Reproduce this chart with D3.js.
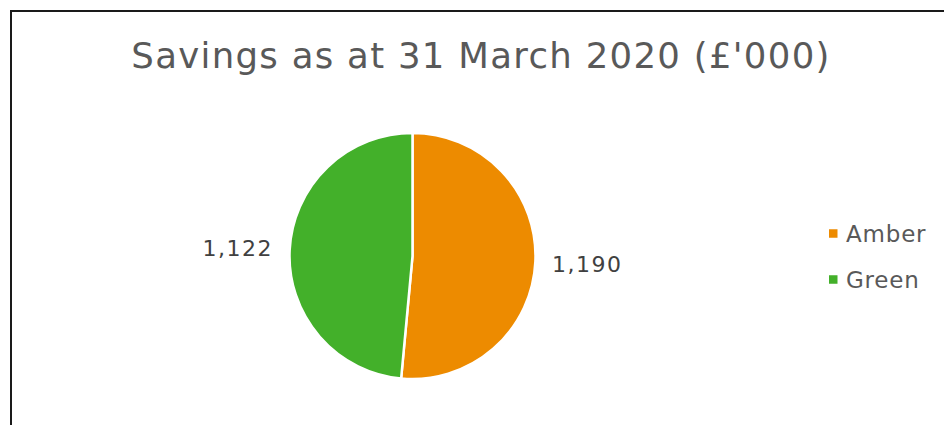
<!DOCTYPE html>
<html>
<head>
<meta charset="utf-8">
<script src="https://cdn.jsdelivr.net/npm/d3@7"></script>
<style>
  body { margin: 0; background: #fff; }
  svg { display: block; font-family: "DejaVu Sans", Verdana, sans-serif; }
</style>
</head>
<body>
<svg id="chart" width="944" height="425"></svg>
<script>
var categories = ["Amber", "Green"];
var values = [1190, 1122];
var colours = ["#ED8B00", "#43B02A"];
var chartTitle = "Savings as at 31 March 2020 (£'000)";

var svg = d3.select("#chart");

// chart frame, runs off the right and bottom of the window
svg.append("rect")
    .attr("x", 11).attr("y", 11)
    .attr("width", 960).attr("height", 440)
    .attr("fill", "#fff")
    .attr("stroke", "#1a1a1a")
    .attr("stroke-width", 2);

svg.append("text")
    .attr("x", 481).attr("y", 68)
    .attr("text-anchor", "middle")
    .attr("font-size", 35.5)
    .attr("letter-spacing", 1.3)
    .attr("fill", "#595959")
    .text(chartTitle);

var cx = 412.5, cy = 256, radius = 123;

var data = categories.map(function(c, i) { return { name: c, value: values[i], colour: colours[i] }; });

var pie = d3.pie().sort(null).value(function(d) { return d.value; });
var arc = d3.arc().innerRadius(0).outerRadius(radius);
var labelArc = d3.arc().innerRadius(175).outerRadius(175);

var g = svg.append("g").attr("transform", "translate(" + cx + "," + cy + ")");

var slices = pie(data);

g.selectAll("path")
    .data(slices)
    .enter().append("path")
    .attr("d", arc)
    .attr("fill", function(d) { return d.data.colour; })
    .attr("stroke", "#fff")
    .attr("stroke-width", 2.5);

g.selectAll("text.lbl")
    .data(slices)
    .enter().append("text")
    .attr("class", "lbl")
    .attr("transform", function(d) { return "translate(" + labelArc.centroid(d) + ")"; })
    .attr("text-anchor", "middle")
    .attr("dy", "0.36em")
    .attr("font-size", 22)
    .attr("letter-spacing", 1.5)
    .attr("fill", "#404040")
    .text(function(d) { return d3.format(",")(d.data.value); });

// legend
var legend = svg.append("g").attr("transform", "translate(829,0)");
var rowY = [233.5, 279.5];
data.forEach(function(d, i) {
    legend.append("rect")
        .attr("x", 0).attr("y", rowY[i] - 4.25)
        .attr("width", 8.5).attr("height", 8.5)
        .attr("fill", d.colour);
    legend.append("text")
        .attr("x", 17).attr("y", rowY[i])
        .attr("dy", "0.36em")
        .attr("font-size", 23)
        .attr("letter-spacing", 0.8)
        .attr("fill", "#595959")
        .text(d.name);
});
</script>
</body>
</html>
